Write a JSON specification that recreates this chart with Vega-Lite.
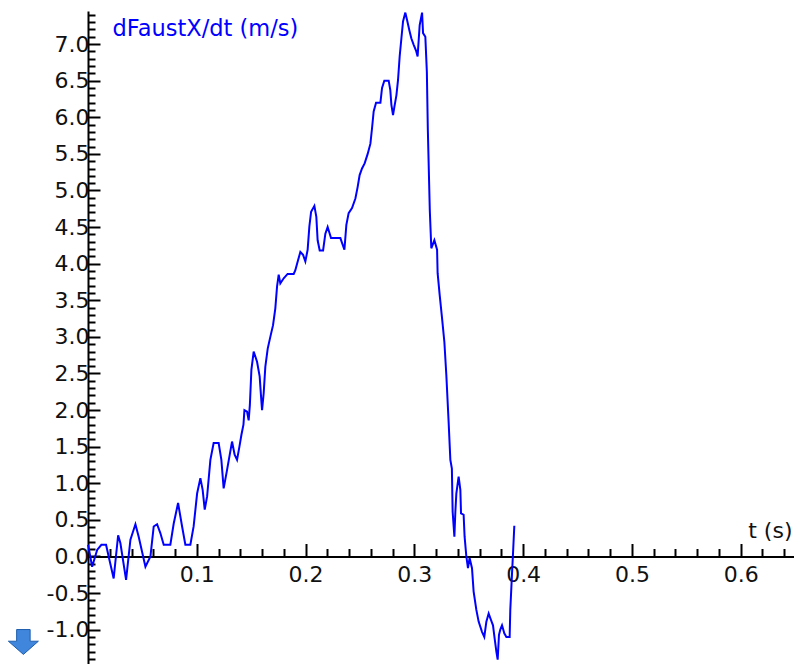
{
  "$schema": "https://vega.github.io/schema/vega-lite/v6.json",
  "width": 706,
  "height": 653,
  "autosize": "none",
  "padding": {"left": 88, "top": 11, "right": 0, "bottom": 0},
  "background": "white",
  "config": {
    "view": {"stroke": null},
    "font": "DejaVu Sans",
    "axis": {
      "grid": false,
      "domainColor": "#000000",
      "domainWidth": 2,
      "tickColor": "#000000",
      "tickWidth": 2,
      "labelFont": "DejaVu Sans",
      "labelFontSize": 22,
      "labelColor": "#111111",
      "titleFont": "DejaVu Sans",
      "titleFontSize": 22,
      "titleFontWeight": "normal"
    }
  },
  "datasets": {
    "curve": [
      {"t": 0.0001, "v": 0.16}, {"t": 0.0038, "v": -0.14}, {"t": 0.0084, "v": 0.09}, {"t": 0.0123, "v": 0.16},
      {"t": 0.0166, "v": 0.16}, {"t": 0.019, "v": 0.0}, {"t": 0.0236, "v": -0.3}, {"t": 0.0277, "v": 0.29},
      {"t": 0.0298, "v": 0.18}, {"t": 0.035, "v": -0.32}, {"t": 0.039, "v": 0.23}, {"t": 0.0436, "v": 0.44},
      {"t": 0.0466, "v": 0.27}, {"t": 0.0528, "v": -0.14}, {"t": 0.0574, "v": 0.0}, {"t": 0.0604, "v": 0.41},
      {"t": 0.0635, "v": 0.44}, {"t": 0.0665, "v": 0.32}, {"t": 0.0696, "v": 0.16}, {"t": 0.0757, "v": 0.16},
      {"t": 0.0788, "v": 0.45}, {"t": 0.0828, "v": 0.73}, {"t": 0.0865, "v": 0.41}, {"t": 0.0895, "v": 0.16},
      {"t": 0.0941, "v": 0.16}, {"t": 0.0971, "v": 0.41}, {"t": 0.1003, "v": 0.86}, {"t": 0.1033, "v": 1.07},
      {"t": 0.1054, "v": 0.91}, {"t": 0.1073, "v": 0.64}, {"t": 0.1095, "v": 0.82}, {"t": 0.1125, "v": 1.32},
      {"t": 0.1155, "v": 1.55}, {"t": 0.1201, "v": 1.55}, {"t": 0.1226, "v": 1.32}, {"t": 0.1247, "v": 0.93},
      {"t": 0.1278, "v": 1.18}, {"t": 0.1324, "v": 1.57}, {"t": 0.1348, "v": 1.39}, {"t": 0.137, "v": 1.32},
      {"t": 0.1392, "v": 1.5}, {"t": 0.141, "v": 1.66}, {"t": 0.1429, "v": 1.8}, {"t": 0.1438, "v": 2.0},
      {"t": 0.1462, "v": 1.98}, {"t": 0.1477, "v": 1.86}, {"t": 0.1488, "v": 2.07}, {"t": 0.1502, "v": 2.55},
      {"t": 0.1523, "v": 2.8}, {"t": 0.1554, "v": 2.66}, {"t": 0.1578, "v": 2.46}, {"t": 0.1591, "v": 2.18},
      {"t": 0.16, "v": 2.0}, {"t": 0.1615, "v": 2.23}, {"t": 0.163, "v": 2.59}, {"t": 0.1652, "v": 2.84},
      {"t": 0.1676, "v": 3.0}, {"t": 0.1701, "v": 3.16}, {"t": 0.1722, "v": 3.39}, {"t": 0.1738, "v": 3.69},
      {"t": 0.1753, "v": 3.85}, {"t": 0.1768, "v": 3.73}, {"t": 0.1799, "v": 3.8}, {"t": 0.1835, "v": 3.86},
      {"t": 0.1891, "v": 3.86}, {"t": 0.1906, "v": 3.91}, {"t": 0.1922, "v": 4.0}, {"t": 0.1952, "v": 4.16},
      {"t": 0.1977, "v": 4.12}, {"t": 0.1998, "v": 4.03}, {"t": 0.2019, "v": 4.19}, {"t": 0.2035, "v": 4.51},
      {"t": 0.2051, "v": 4.71}, {"t": 0.2081, "v": 4.79}, {"t": 0.2099, "v": 4.64}, {"t": 0.2111, "v": 4.32},
      {"t": 0.213, "v": 4.18}, {"t": 0.2161, "v": 4.18}, {"t": 0.2182, "v": 4.41}, {"t": 0.2203, "v": 4.5},
      {"t": 0.2234, "v": 4.35}, {"t": 0.232, "v": 4.35}, {"t": 0.2357, "v": 4.19}, {"t": 0.2375, "v": 4.53},
      {"t": 0.2396, "v": 4.69}, {"t": 0.2427, "v": 4.76}, {"t": 0.2458, "v": 4.89}, {"t": 0.2479, "v": 5.05},
      {"t": 0.2497, "v": 5.21}, {"t": 0.2519, "v": 5.3}, {"t": 0.2543, "v": 5.37}, {"t": 0.2571, "v": 5.5},
      {"t": 0.2596, "v": 5.64}, {"t": 0.2611, "v": 5.85}, {"t": 0.2626, "v": 6.08}, {"t": 0.2648, "v": 6.2},
      {"t": 0.2688, "v": 6.2}, {"t": 0.2703, "v": 6.4}, {"t": 0.2724, "v": 6.5}, {"t": 0.2764, "v": 6.5},
      {"t": 0.2779, "v": 6.37}, {"t": 0.2789, "v": 6.17}, {"t": 0.2804, "v": 6.03}, {"t": 0.2816, "v": 6.14},
      {"t": 0.2835, "v": 6.3}, {"t": 0.285, "v": 6.51}, {"t": 0.2865, "v": 6.83}, {"t": 0.2881, "v": 7.08},
      {"t": 0.2896, "v": 7.31}, {"t": 0.2917, "v": 7.43}, {"t": 0.2933, "v": 7.33}, {"t": 0.2954, "v": 7.19},
      {"t": 0.2972, "v": 7.08}, {"t": 0.2994, "v": 6.99}, {"t": 0.3018, "v": 6.9}, {"t": 0.303, "v": 6.83},
      {"t": 0.3049, "v": 7.26}, {"t": 0.3071, "v": 7.43}, {"t": 0.308, "v": 7.15}, {"t": 0.3101, "v": 7.1},
      {"t": 0.3115, "v": 6.62}, {"t": 0.3124, "v": 5.83}, {"t": 0.3142, "v": 4.73}, {"t": 0.3156, "v": 4.21},
      {"t": 0.3184, "v": 4.32}, {"t": 0.3209, "v": 4.19}, {"t": 0.3214, "v": 3.87}, {"t": 0.3233, "v": 3.57},
      {"t": 0.3255, "v": 3.25}, {"t": 0.3276, "v": 2.93}, {"t": 0.3294, "v": 2.48}, {"t": 0.3315, "v": 1.84},
      {"t": 0.3331, "v": 1.32}, {"t": 0.3345, "v": 1.2}, {"t": 0.3352, "v": 0.61}, {"t": 0.3368, "v": 0.27},
      {"t": 0.3377, "v": 0.61}, {"t": 0.3386, "v": 0.86}, {"t": 0.3407, "v": 1.09}, {"t": 0.3423, "v": 0.91},
      {"t": 0.3429, "v": 0.59}, {"t": 0.3453, "v": 0.57}, {"t": 0.3462, "v": 0.27}, {"t": 0.3478, "v": 0.0},
      {"t": 0.3493, "v": -0.16}, {"t": 0.3508, "v": -0.02}, {"t": 0.353, "v": -0.16}, {"t": 0.3545, "v": -0.48},
      {"t": 0.357, "v": -0.73}, {"t": 0.3591, "v": -0.89}, {"t": 0.3622, "v": -1.03}, {"t": 0.3643, "v": -1.1},
      {"t": 0.3662, "v": -0.89}, {"t": 0.3683, "v": -0.78}, {"t": 0.3705, "v": -0.87}, {"t": 0.3723, "v": -0.94},
      {"t": 0.3738, "v": -1.12}, {"t": 0.3754, "v": -1.3}, {"t": 0.3766, "v": -1.41}, {"t": 0.3778, "v": -1.07},
      {"t": 0.379, "v": -1.0}, {"t": 0.3806, "v": -0.94}, {"t": 0.3827, "v": -1.05}, {"t": 0.3846, "v": -1.1},
      {"t": 0.3876, "v": -1.1}, {"t": 0.3882, "v": -0.73}, {"t": 0.3898, "v": -0.23}, {"t": 0.3907, "v": 0.04},
      {"t": 0.3919, "v": 0.42}
    ],
    "icon": [{"t": -0.0594, "v": -1.168}]
  },
  "resolve": {"axis": {"x": "independent", "y": "independent"}},
  "layer": [
    {
      "data": {"name": "curve"},
      "mark": {"type": "line", "strokeOpacity": 0},
      "encoding": {
        "x": {
          "field": "t", "type": "quantitative",
          "scale": {"domain": [0, 0.649], "nice": false, "zero": false},
          "axis": {
            "orient": "bottom", "offset": -107.5, "domain": false, "labels": false, "title": null,
            "tickSize": -8,
            "values": [0.02, 0.04, 0.06, 0.08, 0.12, 0.14, 0.16, 0.18, 0.22, 0.24, 0.26, 0.28, 0.32, 0.34, 0.36, 0.38, 0.42, 0.44, 0.46, 0.48, 0.52, 0.54, 0.56, 0.58, 0.62, 0.64]
          }
        },
        "y": {
          "field": "v", "type": "quantitative",
          "scale": {"domain": [-1.469, 7.452], "nice": false, "zero": false},
          "axis": {
            "orient": "left", "domain": false, "labels": false, "title": null,
            "tickSize": -7,
            "values": [-1.4, -1.3, -1.2, -1.1, -0.9, -0.8, -0.7, -0.6, -0.4, -0.3, -0.2, -0.1, 0.1, 0.2, 0.3, 0.4, 0.6, 0.7, 0.8, 0.9, 1.1, 1.2, 1.3, 1.4, 1.6, 1.7, 1.8, 1.9, 2.1, 2.2, 2.3, 2.4, 2.6, 2.7, 2.8, 2.9, 3.1, 3.2, 3.3, 3.4, 3.6, 3.7, 3.8, 3.9, 4.1, 4.2, 4.3, 4.4, 4.6, 4.7, 4.8, 4.9, 5.1, 5.2, 5.3, 5.4, 5.6, 5.7, 5.8, 5.9, 6.1, 6.2, 6.3, 6.4, 6.6, 6.7, 6.8, 6.9, 7.1, 7.2, 7.3, 7.4]
          }
        }
      }
    },
    {
      "data": {"name": "curve"},
      "mark": {"type": "line", "color": "#0000ff", "strokeWidth": 2},
      "encoding": {
        "x": {
          "field": "t", "type": "quantitative",
          "scale": {"domain": [0, 0.649], "nice": false, "zero": false},
          "axis": {
            "orient": "bottom", "offset": -107.5, "tickSize": -13, "labelPadding": 21,
            "values": [0.1, 0.2, 0.3, 0.4, 0.5, 0.6], "format": ".1f",
            "title": "t (s)", "titleColor": "#111111", "titleAnchor": "start", "titleAlign": "right",
            "titleBaseline": "alphabetic", "titleX": 704, "titleY": -19
          }
        },
        "y": {
          "field": "v", "type": "quantitative",
          "scale": {"domain": [-1.469, 7.452], "nice": false, "zero": false},
          "axis": {
            "orient": "left", "tickSize": -12, "labelPadding": 11,
            "values": [-1, -0.5, 0, 0.5, 1, 1.5, 2, 2.5, 3, 3.5, 4, 4.5, 5, 5.5, 6, 6.5, 7],
            "labelExpr": "replace(format(datum.value, '.1f'), '−', '-')",
            "title": "dFaustX/dt (m/s)", "titleColor": "#0000ff", "titleFontSize": 22.5, "titleAngle": 0,
            "titleAnchor": "start", "titleAlign": "left", "titleBaseline": "alphabetic",
            "titleX": 24, "titleY": 24
          }
        }
      }
    },
    {
      "data": {"name": "icon"},
      "mark": {
        "type": "point", "filled": true, "size": 900, "opacity": 1,
        "shape": "M-0.45,-0.83 L0.45,-0.83 L0.45,-0.05 L1,-0.05 L0,0.83 L-1,-0.05 L-0.45,-0.05 Z",
        "color": "#3f86dc", "stroke": "#1f5fae", "strokeWidth": 1
      },
      "encoding": {
        "x": {"field": "t", "type": "quantitative", "axis": null},
        "y": {"field": "v", "type": "quantitative", "axis": null}
      }
    }
  ]
}
